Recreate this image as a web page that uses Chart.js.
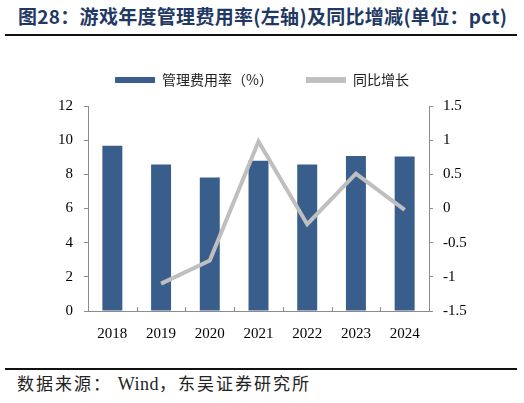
<!DOCTYPE html>
<html>
<head>
<meta charset="utf-8">
<script src="https://cdn.jsdelivr.net/npm/chart.js@4.4.1/dist/chart.umd.min.js"></script>
<style>
  body { margin: 0; background: #fff; }
  #wrap { position: relative; width: 524px; height: 403px; overflow: hidden; }
  #title { position: absolute; left: 18px; top: 2px; font: bold 19px "Noto Sans CJK SC", sans-serif; color: #1F3864; white-space: nowrap; letter-spacing: 0.3px; }
  .rule { position: absolute; left: 5px; width: 512px; height: 2px; background: #111; }
  #box { position: absolute; left: 0; top: 40px; width: 524px; height: 320px; }
  #source { position: absolute; left: 17px; top: 370px; font: 17px "Noto Sans CJK SC", sans-serif; color: #222; letter-spacing: 2px; white-space: nowrap; }
  #source span { font-family: "Liberation Serif", serif; font-size: 18px; letter-spacing: 0.5px; }
</style>
</head>
<body>
<div id="wrap">
  <div id="title">图28：游戏年度管理费用率(左轴)及同比增减(单位：pct)</div>
  <div class="rule" style="top:34px"></div>
  <div id="box"><canvas id="feeChart"></canvas></div>
  <div class="rule" style="top:368px"></div>
  <div id="source">数据来源： <span>Wind</span>，东吴证券研究所</div>
</div>
<script>
// 데이터
const years = ["2018", "2019", "2020", "2021", "2022", "2023", "2024"];
const feeRate = [9.68, 8.58, 7.81, 8.79, 8.58, 9.08, 9.04];
const yoyChange = [null, -1.1, -0.76, 0.98, -0.23, 0.51, -0.02];
const leftTicks = [0, 12, 2];
const rightTicks = [-1.5, 1.5, 0.5];

const tickFont = { family: "'Liberation Serif', 'Times New Roman', serif", size: 15 };
const axisColor = "#8c8c8c";

// x축 안쪽 눈금 (카테고리 경계)
const innerTicks = {
  id: "innerTicks",
  afterDraw(chart) {
    const x = chart.scales.x;
    const bottom = chart.chartArea.bottom;
    const ctx = chart.ctx;
    ctx.save();
    ctx.strokeStyle = axisColor;
    ctx.lineWidth = 1;
    for (let i = 0; i <= years.length; i++) {
      const px = Math.round(x.getPixelForValue(i - 0.5)) + 0.5;
      ctx.beginPath();
      ctx.moveTo(px, bottom);
      ctx.lineTo(px, bottom - 4);
      ctx.stroke();
    }
    ctx.restore();
  },
};

// 범례와 차트 사이 간격
const legendGap = {
  id: "legendGap",
  beforeInit(chart) {
    const fit = chart.legend.fit;
    chart.legend.fit = function () {
      fit.bind(chart.legend)();
      this.height += 9;
    };
  },
};

const ctx = document.getElementById("feeChart").getContext("2d");
const feeChart = new Chart(ctx, {
  type: "bar",
  data: {
    labels: years,
    datasets: [
      {
        label: "管理费用率（%）",
        data: feeRate,
        backgroundColor: "#3A5E8C",
        yAxisID: "y",
        barPercentage: 0.41,
        categoryPercentage: 1,
        order: 1,
      },
      {
        type: "line",
        label: "同比增长",
        data: yoyChange,
        borderColor: "#BFBFBF",
        backgroundColor: "#BFBFBF",
        borderWidth: 4,
        pointRadius: 0,
        tension: 0,
        yAxisID: "y1",
        order: 0,
      },
    ],
  },
  options: {
    responsive: true,
    maintainAspectRatio: false,
    animation: false,
    layout: { padding: { top: 0 } },
    scales: {
      x: {
        grid: { display: false },
        border: { color: axisColor },
        ticks: { font: tickFont, color: "#000", padding: 6 },
        afterFit: (s) => { s.height = 49; },
      },
      y: {
        position: "left",
        min: leftTicks[0],
        max: leftTicks[1],
        ticks: { stepSize: leftTicks[2], font: tickFont, color: "#000", padding: 11 },
        grid: { drawOnChartArea: false, tickLength: 4, color: axisColor },
        border: { color: axisColor },
        afterFit: (s) => { s.width = 88; },
      },
      y1: {
        position: "right",
        min: rightTicks[0],
        max: rightTicks[1],
        ticks: {
          stepSize: rightTicks[2],
          font: tickFont,
          color: "#000",
          padding: 10,
          callback: (v) => String(v),
        },
        grid: { drawOnChartArea: false, tickLength: 4, color: axisColor },
        border: { color: axisColor },
        afterFit: (s) => { s.width = 95; },
      },
    },
    plugins: {
      legend: {
        position: "top",
        labels: {
          boxWidth: 40,
          boxHeight: 6,
          padding: 33,
          color: "#222",
          font: { family: "'Noto Sans CJK SC', sans-serif", size: 14 },
          sort: (a, b) => a.datasetIndex - b.datasetIndex,
          generateLabels(chart) {
            const items = Chart.defaults.plugins.legend.labels.generateLabels(chart);
            items.forEach((it) => { it.lineWidth = 0; });
            return items;
          },
        },
      },
      tooltip: { enabled: false },
    },
  },
  plugins: [innerTicks, legendGap],
});
</script>
</body>
</html>
